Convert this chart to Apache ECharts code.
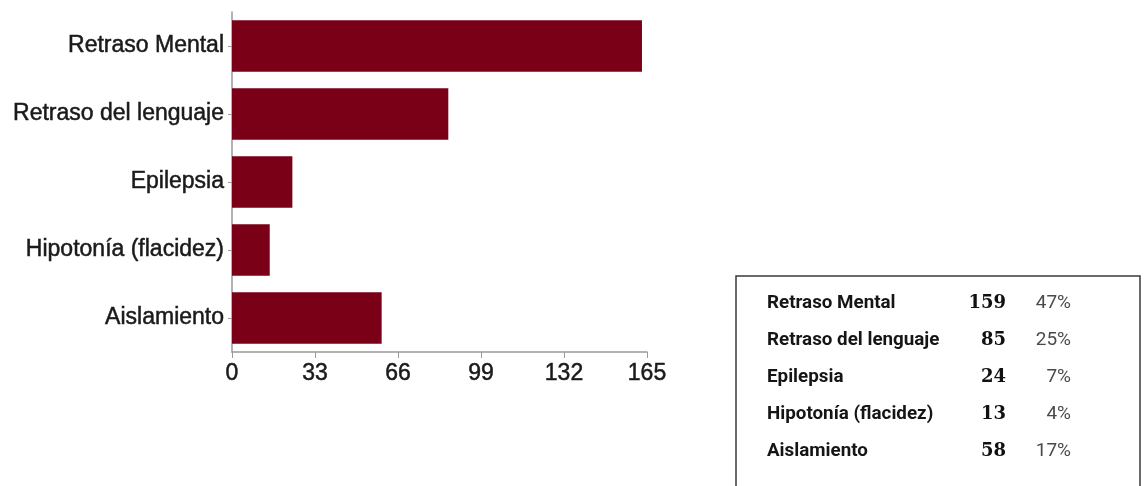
<!DOCTYPE html>
<html>
<head>
<meta charset="utf-8">
<script src="https://cdn.jsdelivr.net/npm/echarts@6/dist/echarts.min.js"></script>
<style>
html,body{margin:0;padding:0;background:#fff;}
#chart{width:1148px;height:486px;}
</style>
</head>
<body>
<div id="chart"></div>
<script>
var categories = ['Retraso Mental', 'Retraso del lenguaje', 'Epilepsia', 'Hipotonía (flacidez)', 'Aislamiento'];
var barValues = [163, 86, 24, 15, 59.5];
var xTicks = [0, 33, 66, 99, 132, 165];
var tableLabels = ['Retraso Mental', 'Retraso del lenguaje', 'Epilepsia', 'Hipotonía (flacidez)', 'Aislamiento'];
var tableCounts = [159, 85, 24, 13, 58];
var tablePercents = ['47%', '25%', '7%', '4%', '17%'];

var chart = echarts.init(document.getElementById('chart'), null, {renderer: 'canvas'});

var labelFont = {fontFamily: 'Liberation Sans, Arial, sans-serif', fontSize: 23, color: '#1a1a1a', textBorderColor: '#1a1a1a', textBorderWidth: 0.5};

var graphics = [{
  type: 'rect',
  shape: {x: 736, y: 276, width: 404, height: 240},
  style: {fill: 'none', stroke: '#3a3a3a', lineWidth: 1.5},
  silent: true
}];
var rowTop = 303, rowStep = 37;
for (var i = 0; i < tableLabels.length; i++) {
  var y = rowTop + i * rowStep;
  graphics.push({
    type: 'text', x: 767, y: y,
    style: {text: tableLabels[i], fontFamily: 'Roboto, sans-serif', fontWeight: 'bold', fontSize: 18.8, fill: '#151515', textVerticalAlign: 'middle', textAlign: 'left'}
  });
  graphics.push({
    type: 'text', x: 1006, y: y,
    style: {text: String(tableCounts[i]), fontFamily: 'DejaVu Serif, serif', fontWeight: 'bold', fontSize: 18, fill: '#111', textVerticalAlign: 'middle', textAlign: 'right'}
  });
  graphics.push({
    type: 'text', x: 1071, y: y,
    style: {text: tablePercents[i], fontFamily: 'Roboto, sans-serif', fontSize: 19, fill: '#4a4a4a', textVerticalAlign: 'middle', textAlign: 'right'}
  });
}

var option = {
  backgroundColor: '#ffffff',
  animation: false,
  grid: {left: 232, top: 12, right: 501, bottom: 134, containLabel: false},
  xAxis: {
    type: 'value',
    min: xTicks[0],
    max: xTicks[xTicks.length - 1],
    interval: xTicks[1] - xTicks[0],
    axisLine: {show: true, lineStyle: {color: '#9a9a9a', width: 1.5}},
    axisTick: {show: true, length: 6, lineStyle: {color: '#9a9a9a'}},
    splitLine: {show: false},
    axisLabel: Object.assign({margin: 10}, labelFont)
  },
  yAxis: {
    type: 'category',
    inverse: true,
    data: categories,
    axisLine: {show: true, lineStyle: {color: '#9a9a9a', width: 1.5}},
    axisTick: {show: true, alignWithLabel: true, length: 4, lineStyle: {color: '#9a9a9a'}},
    axisLabel: Object.assign({margin: 8}, labelFont)
  },
  series: [{
    type: 'bar',
    data: barValues,
    barCategoryGap: '24%',
    itemStyle: {color: '#7a0018'}
  }],
  graphic: graphics
};
chart.setOption(option);
</script>
</body>
</html>
